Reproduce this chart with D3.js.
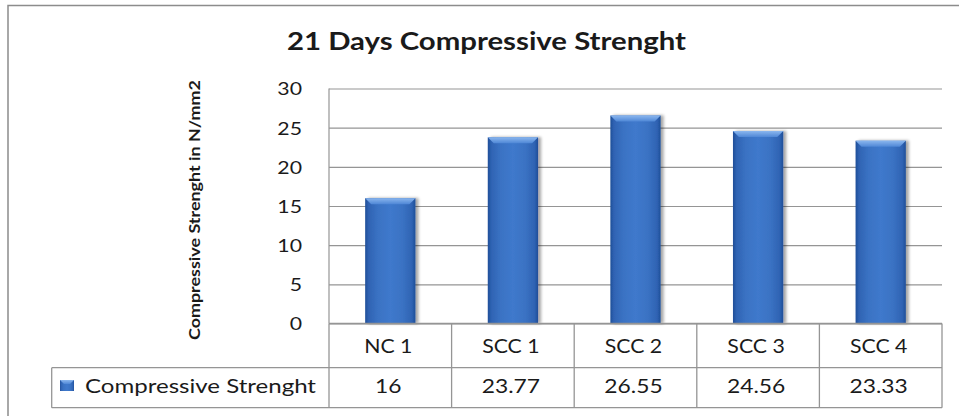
<!DOCTYPE html>
<html>
<head>
<meta charset="utf-8">
<script src="https://cdn.jsdelivr.net/npm/d3@7"></script>
<style>
  html, body { margin: 0; padding: 0; background: #fff; }
  svg { display: block; }
  text { font-family: Lato, "Open Sans", sans-serif; fill: #1a1a1a; }
</style>
</head>
<body>
<svg id="chart" width="959" height="416"></svg>
<script>
// ---- data ----
const chartTitle = "21 Days Compressive Strenght";
const yAxisTitle = "Compressive Strenght in N/mm2";
const seriesName = "Compressive Strenght";
const categories = ["NC 1", "SCC 1", "SCC 2", "SCC 3", "SCC 4"];
const values = [16, 23.77, 26.55, 24.56, 23.33];
const valueLabels = ["16", "23.77", "26.55", "24.56", "23.33"];
const yTicks = [0, 5, 10, 15, 20, 25, 30];

// ---- layout ----
const W = 959, H = 416;
const plotL = 329, plotR = 942, plotT = 88.5, plotB = 323.5;
const row1B = 367.7, row2B = 407.7, legendL = 51.7;
const gridColor = "#959595";

const svg = d3.select("#chart");

function stretch(sel, factor) {
  sel.each(function () {
    const w = this.getComputedTextLength();
    d3.select(this).attr("textLength", w * factor).attr("lengthAdjust", "spacingAndGlyphs");
  });
}

const defs = svg.append("defs");
const barGrad = defs.append("linearGradient").attr("id", "barGrad")
  .attr("x1", "0").attr("x2", "1").attr("y1", "0").attr("y2", "0");
[[0, "#1f4e98"], [0.07, "#2f63b3"], [0.25, "#3a72c3"], [0.5, "#3f79cc"], [0.75, "#3a72c3"], [0.93, "#2f63b3"], [1, "#1f4e98"]]
  .forEach(([o, c]) => barGrad.append("stop").attr("offset", o).attr("stop-color", c));
const bevelGrad = defs.append("linearGradient").attr("id", "bevelGrad")
  .attr("x1", "0").attr("x2", "0").attr("y1", "0").attr("y2", "1");
[[0, "#8ab6ee"], [1, "#4f87d6"]]
  .forEach(([o, c]) => bevelGrad.append("stop").attr("offset", o).attr("stop-color", c));
const shadow = defs.append("filter").attr("id", "shadow")
  .attr("x", "-20%").attr("y", "-5%").attr("width", "150%").attr("height", "115%");
shadow.append("feGaussianBlur").attr("in", "SourceAlpha").attr("stdDeviation", 1.6).attr("result", "b");
shadow.append("feOffset").attr("in", "b").attr("dx", 2.5).attr("dy", 0).attr("result", "o");
shadow.append("feComponentTransfer").attr("in", "o").attr("result", "s")
  .append("feFuncA").attr("type", "linear").attr("slope", 0.35);
const merge = shadow.append("feMerge");
merge.append("feMergeNode").attr("in", "s");
merge.append("feMergeNode").attr("in", "SourceGraphic");

// chart frame (only top and left edges are visible in the picture)
svg.append("rect").attr("x", 8).attr("y", 5.5).attr("width", W + 20).attr("height", H + 20)
  .attr("fill", "#fff").attr("stroke", "#8c8c8c").attr("stroke-width", 1.5);

// scales
const x = d3.scaleBand().domain(categories).range([plotL, plotR]).paddingInner(0.59).paddingOuter(0.295);
const xCell = d3.scaleBand().domain(categories).range([plotL, plotR]).padding(0);
const y = d3.scaleLinear().domain([0, 30]).range([plotB, plotT]);

// gridlines
const grid = svg.append("g").attr("transform", `translate(${plotL},0)`)
  .call(d3.axisLeft(y).tickValues(yTicks).tickSize(-(plotR - plotL)).tickFormat(""));
grid.select(".domain").remove();
grid.selectAll("line").attr("stroke", gridColor).attr("stroke-width", 1.2);

// y axis line
svg.append("line").attr("x1", plotL).attr("x2", plotL).attr("y1", plotT).attr("y2", plotB)
  .attr("stroke", gridColor).attr("stroke-width", 1.2);

// y tick labels
const yAxis = svg.append("g").attr("transform", `translate(${plotL},0)`)
  .call(d3.axisLeft(y).tickValues(yTicks).tickSize(0).tickPadding(27));
yAxis.select(".domain").remove();
yAxis.selectAll("text").attr("font-size", 18).attr("font-family", "Lato, sans-serif").attr("fill", "#1a1a1a")
  .attr("dy", "0.36em");
stretch(yAxis.selectAll("text"), 1.18);

// bars
const bars = svg.append("g").selectAll("g").data(categories).join("g").attr("filter", "url(#shadow)");
bars.append("rect")
  .attr("x", d => x(d)).attr("width", x.bandwidth())
  .attr("y", (d, i) => y(values[i])).attr("height", (d, i) => y(0) - y(values[i]))
  .attr("fill", "url(#barGrad)");
const bev = 6;
bars.append("path")
  .attr("d", (d, i) => {
    const x0 = x(d), x1 = x(d) + x.bandwidth(), t = y(values[i]);
    return `M${x0},${t}L${x1},${t}L${x1 - bev},${t + bev}L${x0 + bev},${t + bev}Z`;
  })
  .attr("fill", "url(#bevelGrad)");

// data table
const table = svg.append("g").attr("stroke", gridColor).attr("stroke-width", 1.3).attr("fill", "none");
table.append("line").attr("x1", plotL).attr("x2", plotR).attr("y1", plotB).attr("y2", plotB);
table.append("line").attr("x1", legendL).attr("x2", plotR).attr("y1", row1B).attr("y2", row1B);
table.append("line").attr("x1", legendL).attr("x2", plotR).attr("y1", row2B).attr("y2", row2B);
table.append("line").attr("x1", legendL).attr("x2", legendL).attr("y1", row1B).attr("y2", row2B);
table.selectAll("line.col").data(categories.concat(["end"])).join("line").attr("class", "col")
  .attr("x1", (d, i) => i < categories.length ? xCell(d) : plotR)
  .attr("x2", (d, i) => i < categories.length ? xCell(d) : plotR)
  .attr("y1", plotB).attr("y2", row2B);

const catText = svg.append("g").selectAll("text").data(categories).join("text")
  .attr("x", d => xCell(d) + xCell.bandwidth() / 2 - 2).attr("y", 353)
  .attr("text-anchor", "middle").attr("font-size", 19).text(d => d);
stretch(catText, 1.12);

const valText = svg.append("g").selectAll("text").data(valueLabels).join("text")
  .attr("x", (d, i) => xCell(categories[i]) + xCell.bandwidth() / 2 - 2).attr("y", 393)
  .attr("text-anchor", "middle").attr("font-size", 19).text(d => d);
stretch(valText, 1.2);

// legend in data table
svg.append("rect").attr("x", 60).attr("y", 380).attr("width", 14).attr("height", 11).attr("fill", "url(#barGrad)");
svg.append("path").attr("d", "M60,380L74,380L70,384L64,384Z").attr("fill", "url(#bevelGrad)");
const legText = svg.append("text").attr("x", 85).attr("y", 393).attr("font-size", 19).text(seriesName);
legText.attr("textLength", 231).attr("lengthAdjust", "spacingAndGlyphs");

// title
svg.append("text").attr("x", 486.5).attr("y", 50).attr("text-anchor", "middle")
  .attr("font-size", 24).attr("font-weight", "bold").attr("fill", "#111")
  .attr("textLength", 399).attr("lengthAdjust", "spacingAndGlyphs")
  .text(chartTitle);

// y axis title
svg.append("text").attr("transform", "translate(200,210) rotate(-90)")
  .attr("text-anchor", "middle").attr("font-size", 15).attr("font-weight", "bold").attr("fill", "#111")
  .attr("textLength", 260).attr("lengthAdjust", "spacingAndGlyphs")
  .text(yAxisTitle);
</script>
</body>
</html>
